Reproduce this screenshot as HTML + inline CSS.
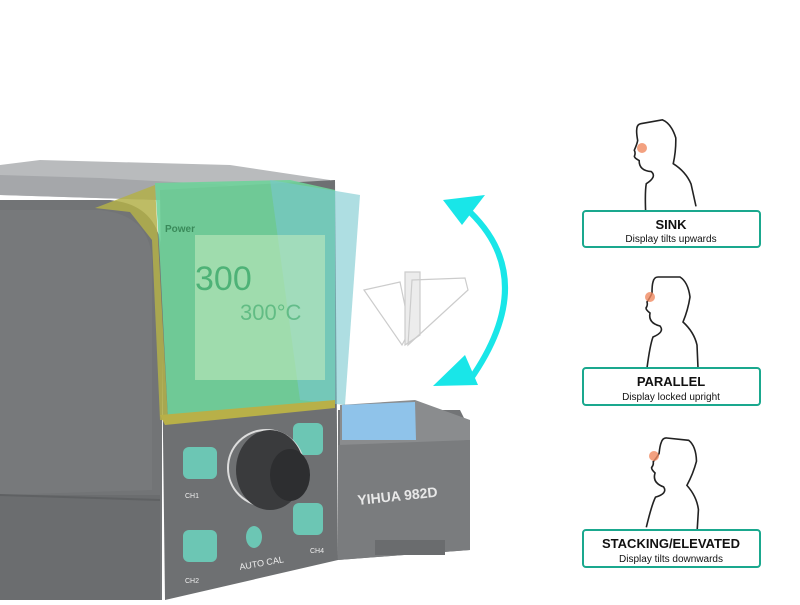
<!DOCTYPE html>
<html><head><meta charset="utf-8"><style>
body{margin:0;background:#fff;width:800px;height:600px;overflow:hidden;font-family:"Liberation Sans",sans-serif}
</style></head><body>
<svg width="800" height="600" xmlns="http://www.w3.org/2000/svg">
<defs>
<path id="head" d="M647,368 Q650,345 653,337 Q665,332 660,326 Q648,323 650,313 Q646,310 646,308 Q648,305 647,302 Q651,296 652,293 Q652,285 653,282 Q654,277 658,277 L680,277 Q688,282 690,297 Q688,310 683,322 Q694,332 697,345 L698,368" fill="none" stroke="#222" stroke-width="1.6"/>
</defs>
<rect width="800" height="600" fill="#fff"/>
<!-- top of device -->
<polygon points="0,165 40,160 230,165 330,180 330,200 160,200 0,195" fill="#b9bbbd"/>
<polygon points="0,175 100,178 230,185 160,200 0,195" fill="#a5a7aa"/>
<!-- left body -->
<path d="M0,200 L110,200 Q160,205 162,255 L162,600 L0,600 Z" fill="#727476"/>
<path d="M0,210 L100,210 Q150,215 152,260 L152,490 L0,495 Z" fill="#77797b"/>
<rect x="0" y="495" width="160" height="105" fill="#6b6d6f"/>
<line x1="0" y1="495" x2="160" y2="500" stroke="#5f6163" stroke-width="2"/>
<!-- front panel -->
<polygon points="160,190 335,180 338,560 165,600" fill="#6e7072"/>
<!-- screen -->
<polygon points="95,208 155,185 168,420 160,420 152,240 130,212" fill="#b3b04a" opacity="0.85"/>
<polygon points="155,183 290,180 335,190 335,405 168,420 160,260" fill="#6fd39a" opacity="0.9"/>
<polygon points="270,180 360,195 345,405 300,400" fill="#78c8cf" opacity="0.6"/>
<rect x="195" y="235" width="130" height="145" fill="#bfe9bd" opacity="0.6"/>
<polygon points="160,415 335,400 335,408 165,425" fill="#b8b048"/>
<text x="195" y="290" font-size="34" fill="#3aa86a" opacity="0.8">300</text>
<text x="240" y="320" font-size="22" fill="#3aa86a" opacity="0.6">300°C</text>
<text x="165" y="232" font-size="10" fill="#3a8a5a" font-weight="bold">Power</text>
<!-- buttons -->
<rect x="183" y="447" width="34" height="32" rx="6" fill="#6cc6b4"/>
<rect x="183" y="530" width="34" height="32" rx="6" fill="#6cc6b4"/>
<rect x="293" y="423" width="30" height="32" rx="6" fill="#6cc6b4"/>
<rect x="293" y="503" width="30" height="32" rx="6" fill="#6cc6b4"/>
<ellipse cx="254" cy="537" rx="8" ry="11" fill="#6cc6b4"/>
<!-- knob -->
<circle cx="266" cy="468" r="38" fill="none" stroke="#ddd" stroke-width="2"/>
<ellipse cx="270" cy="470" rx="34" ry="40" fill="#3a3b3d"/>
<ellipse cx="290" cy="475" rx="20" ry="26" fill="#2d2e30"/>
<text x="185" y="498" font-size="7" fill="#eee">CH1</text>
<text x="185" y="583" font-size="7" fill="#eee">CH2</text>
<text x="310" y="553" font-size="7" fill="#eee">CH4</text>
<text x="240" y="570" font-size="9" fill="#eee" transform="rotate(-10 240 570)">AUTO CAL</text>
<!-- sponge tray -->
<polygon points="338,410 460,410 470,430 470,550 338,560" fill="#727476"/>
<polygon points="340,405 415,400 470,420 470,440 340,450" fill="#8a8c8e"/>
<polygon points="342,405 415,402 416,440 342,440" fill="#8fc3ea"/>
<polygon points="338,445 470,440 470,550 338,560" fill="#7a7c7e"/>
<text x="358" y="505" font-size="14" font-weight="bold" fill="#e8e8e8" transform="rotate(-6 358 505)">YIHUA 982D</text>
<rect x="375" y="540" width="70" height="15" fill="#6a6c6e"/>
<!-- small tilt icon -->
<g fill="none" stroke="#ccc" stroke-width="1.2">
<polygon points="364,290 400,282 410,330 402,345"/>
<polygon points="405,272 420,272 420,335 405,345" fill="#ececec"/>
<polygon points="412,280 465,278 468,290 408,345"/>
</g>
<!-- cyan arrow -->
<path d="M470,212 Q540,280 470,380" fill="none" stroke="#19e6e8" stroke-width="6"/>
<polygon points="443,200 485,195 462,225" fill="#19e6e8"/>
<polygon points="433,386 465,355 478,385" fill="#19e6e8"/>
<!-- heads -->
<g transform="translate(-3,-157) rotate(-10 672 360)"><use href="#head"/></g>
<use href="#head"/>
<g transform="translate(0,162) rotate(6 672 360)"><use href="#head"/></g>
<circle cx="642" cy="148" r="5" fill="#f08a60" opacity="0.8"/>
<circle cx="650" cy="297" r="5" fill="#f08a60" opacity="0.8"/>
<circle cx="654" cy="456" r="5" fill="#f08a60" opacity="0.8"/>
<!-- label boxes -->
<g fill="#fff" stroke="#1aa88e" stroke-width="2">
<rect x="583" y="211" width="177" height="36" rx="3"/>
<rect x="583" y="368" width="177" height="37" rx="3"/>
<rect x="583" y="530" width="177" height="37" rx="3"/>
</g>
<g text-anchor="middle" fill="#111">
<text x="671" y="229" font-size="13" font-weight="bold">SINK</text>
<text x="671" y="242" font-size="10">Display tilts upwards</text>
<text x="671" y="386" font-size="13" font-weight="bold">PARALLEL</text>
<text x="671" y="400" font-size="10">Display locked upright</text>
<text x="671" y="548" font-size="13" font-weight="bold">STACKING/ELEVATED</text>
<text x="671" y="562" font-size="10">Display tilts downwards</text>
</g>
</svg>
</body></html>
